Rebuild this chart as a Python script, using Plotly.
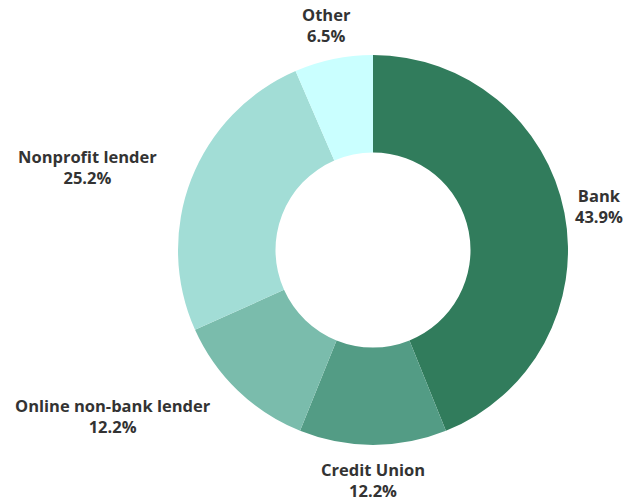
import math
import plotly.graph_objects as go

# Lender type shares (percent of total)
labels = ["Bank", "Credit Union", "Online non-bank lender", "Nonprofit lender", "Other"]
shares = [43.9, 12.2, 12.2, 25.2, 6.5]
colors = ["#317C5C", "#539C85", "#7ABCAC", "#A2DDD6", "#CAFFFF"]

# Plot area is a square, so the pie fills it: radius = 0.5 in paper units
LABEL_RADIUS = 0.59  # where outside labels sit, in paper units from the centre

fig = go.Figure(
    go.Pie(
        labels=labels,
        values=shares,
        hole=0.5,
        sort=False,
        direction="clockwise",
        rotation=0,
        marker=dict(colors=colors, line=dict(width=0)),
        textinfo="none",
        hoverinfo="label+percent",
        showlegend=False,
    )
)

# Outside labels placed at the mid-angle of each slice
total = sum(shares)
cum = 0.0
for lab, val in zip(labels, shares):
    mid = (cum + val / 2) / total * 2 * math.pi  # clockwise from 12 o'clock
    cum += val
    sx, cy = math.sin(mid), math.cos(mid)
    xanchor = "right" if sx < -0.5 else "center"
    fig.add_annotation(
        x=0.5 + LABEL_RADIUS * sx,
        y=0.5 + LABEL_RADIUS * cy,
        xref="paper",
        yref="paper",
        text=f"<b>{lab}</b><br><b>{val:.1f}%</b>",
        showarrow=False,
        xanchor=xanchor,
        yanchor="middle",
        align="center",
        font=dict(family="Open Sans", size=16.5, color="#333333"),
    )

fig.update_layout(
    width=634,
    height=502,
    margin=dict(l=178, r=66, t=55, b=57),
    paper_bgcolor="white",
    plot_bgcolor="white",
)

fig.write_html("out.html")
